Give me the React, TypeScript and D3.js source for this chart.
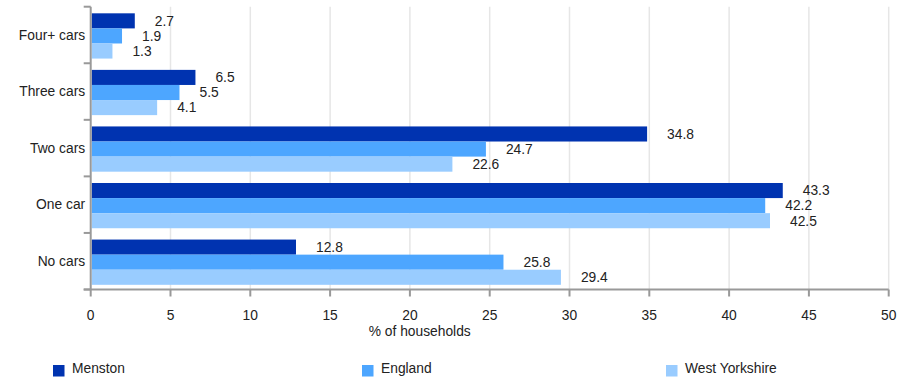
import React from "react";
import * as d3 from "d3";

const categories = ["Four+ cars", "Three cars", "Two cars", "One car", "No cars"];
const seriesNames = ["Menston", "England", "West Yorkshire"];
const menston = [2.7, 6.5, 34.8, 43.3, 12.8];
const england = [1.9, 5.5, 24.7, 42.2, 25.8];
const westYorkshire = [1.3, 4.1, 22.6, 42.5, 29.4];
const xTicks = [0, 5, 10, 15, 20, 25, 30, 35, 40, 45, 50];
const colors = ["#0033b0", "#4da6ff", "#99ccff"];

const W = 901;
const H = 379;
const FONT = "Liberation Sans, Arial, sans-serif";
const FS = 13.8;

export default function App() {
  const series = [menston, england, westYorkshire];
  const left = 90.7;
  const right = 888.7;
  const top = 6.7;
  const bottom = 289.5;

  const x = d3.scaleLinear().domain([0, 50]).range([left, right]);
  const y = d3.scaleBand<string>().domain(categories).range([top, bottom]).padding(0);
  const bw = y.bandwidth();
  const sub = d3.scaleBand<string>().domain(seriesNames).range([bw * 0.117, bw * 0.917]).padding(0);

  const boundaries = d3.range(categories.length + 1).map((i) => top + i * y.step());
  const legendX = [53, 362, 666];

  return (
    <svg width={W} height={H} style={{ position: "absolute", left: 0, top: 0 }} fontFamily={FONT}>
      <rect width={W} height={H} fill="#fff" />
      {xTicks.slice(1).map((t) => (
        <line key={"g" + t} x1={x(t)} x2={x(t)} y1={top} y2={bottom} stroke="#e6e6e6" strokeWidth={1.5} />
      ))}
      {categories.map((c, ci) =>
        series.map((s, si) => {
          const yy = (y(c) as number) + (sub(seriesNames[si]) as number);
          const h = sub.bandwidth();
          return (
            <g key={c + si}>
              <rect x={x(0) + 1} y={yy} width={x(s[ci]) - x(0)} height={h} fill={colors[si]} />
              <text x={x(s[ci]) + 21} y={yy + h / 2} dy="0.35em" fontSize={FS} fill="#222">
                {s[ci].toFixed(1)}
              </text>
            </g>
          );
        })
      )}
      {/* y axis */}
      <line x1={left} x2={left} y1={top} y2={bottom} stroke="#999" strokeWidth={2} />
      {boundaries.map((b, i) => (
        <line key={"yt" + i} x1={left - 7} x2={left} y1={b} y2={b} stroke="#999" strokeWidth={2} />
      ))}
      {categories.map((c) => (
        <text key={"yl" + c} x={left - 5.5} y={(y(c) as number) + bw / 2} dy="0.35em" textAnchor="end" fontSize={FS} fill="#222">
          {c}
        </text>
      ))}
      {/* x axis */}
      <line x1={left - 7} x2={right} y1={bottom} y2={bottom} stroke="#999" strokeWidth={2} />
      {xTicks.map((t) => (
        <g key={"xt" + t}>
          <line x1={x(t)} x2={x(t)} y1={bottom} y2={bottom + 7} stroke="#999" strokeWidth={2} />
          <text x={x(t)} y={315} dy="0.35em" textAnchor="middle" fontSize={FS} fill="#222">
            {t}
          </text>
        </g>
      ))}
      <text x={(left + right) / 2 - 70} y={331} dy="0.35em" textAnchor="middle" fontSize={FS} fill="#222">
        % of households
      </text>
      {seriesNames.map((n, i) => (
        <g key={"lg" + n}>
          <rect x={legendX[i]} y={365} width={11.5} height={11.5} fill={colors[i]} />
          <text x={legendX[i] + 19} y={368} dy="0.35em" fontSize={FS} fill="#222">
            {n}
          </text>
        </g>
      ))}
    </svg>
  );
}
